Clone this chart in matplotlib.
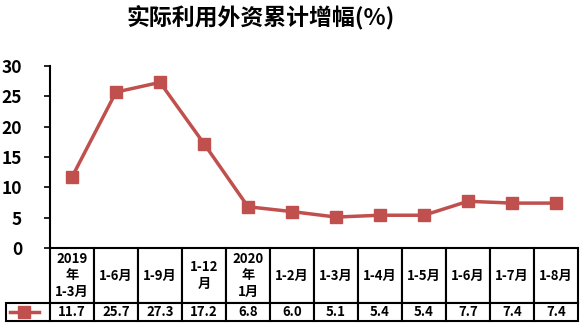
import matplotlib.pyplot as plt
from matplotlib.lines import Line2D
from matplotlib.table import Table

plt.rcParams['font.family'] = ['Noto Sans CJK SC', 'DejaVu Sans']

periods = ["2019\n年\n1-3月", "1-6月", "1-9月", "1-12\n月", "2020\n年\n1月", "1-2月",
           "1-3月", "1-4月", "1-5月", "1-6月", "1-7月", "1-8月"]
growth = [11.7, 25.7, 27.3, 17.2, 6.8, 6.0, 5.1, 5.4, 5.4, 7.7, 7.4, 7.4]
yticks = [0, 5, 10, 15, 20, 25, 30]

color = '#C0504D'
W, H = 587, 328
fig = plt.figure(figsize=(W / 100, H / 100), dpi=100)

# axes box in pixels: x 50..578, y 66..248
ax = fig.add_axes([50 / W, 1 - 248 / H, 528 / W, 182 / H])
x = list(range(len(growth)))
ax.plot(x, growth, color=color, lw=2.5, marker='s', ms=8, clip_on=False)
ax.set_xlim(-0.5, len(growth) - 0.5)
ax.set_ylim(0, 30)
ax.set_yticks(yticks)
ax.set_yticklabels([str(t) for t in yticks], fontsize=12.5, fontweight='bold')
ax.tick_params(axis='y', direction='out', length=4, width=1.2, pad=16)
ax.set_xticks([])
for s in ['top', 'right', 'bottom']:
    ax.spines[s].set_visible(False)
ax.spines['left'].set_linewidth(1.5)

fig.text(261 / W, 1 - 17 / H, '实际利用外资累计增幅(%)', ha='center', va='center',
         fontsize=16.5, fontweight='bold')

# data table under the plot, built cell by cell
axw, axh = 528.0, 182.0
cw, hh, vh = 44 / axw, 55 / axh, 18 / axh
tbl = Table(ax, bbox=[0, -73 / axh, 1, 73 / axh])
for j, (lab, v) in enumerate(zip(periods, growth)):
    tbl.add_cell(0, j, cw, hh, text=lab, loc='center')
    tbl.add_cell(1, j, cw, vh, text=f'{v:.1f}', loc='center')
tbl.add_cell(1, -1, 44 / axw, vh, text='', loc='center')
tbl.auto_set_font_size(False)
for (r, c), cell in tbl.get_celld().items():
    cell.set_linewidth(1.5)
    cell.get_text().set_fontsize(9.5)
    cell.get_text().set_fontweight('bold')
    cell.PAD = 0.02
ax.add_table(tbl)

# legend key inside the row label cell
ky = 1 - 312 / H
fig.add_artist(Line2D([10 / W, 39 / W], [ky, ky], color=color, lw=2.5))
fig.add_artist(Line2D([24 / W], [ky], color=color, marker='s', ms=8))

fig.savefig('out.png', dpi=100)
